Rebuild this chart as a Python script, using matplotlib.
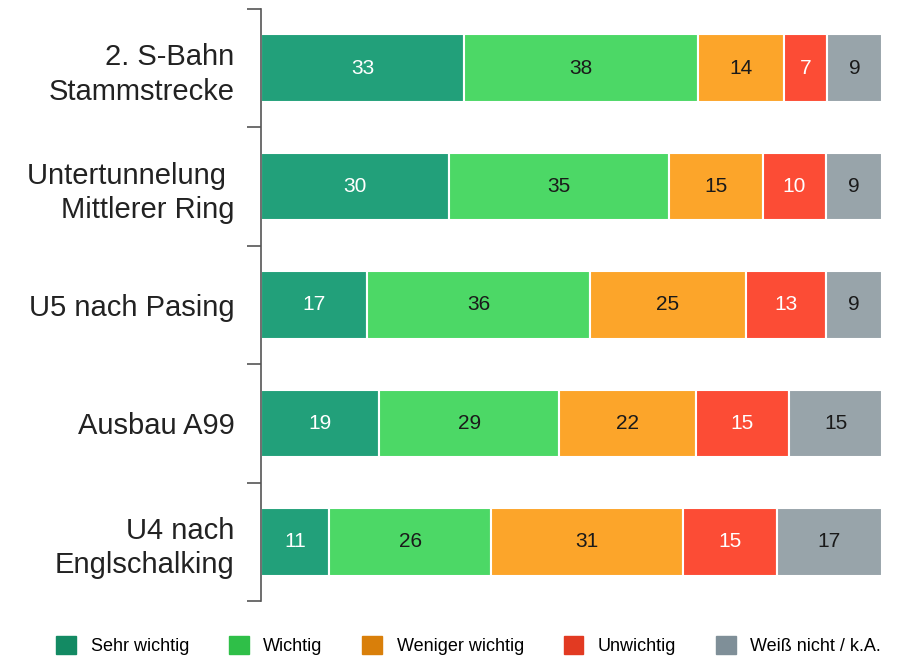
import matplotlib.pyplot as plt
from matplotlib.patches import Patch
import numpy as np

projekte = ["2. S-Bahn\nStammstrecke", "Untertunnelung \nMittlerer Ring", "U5 nach Pasing",
            "Ausbau A99", "U4 nach\nEnglschalking"]
antworten = ["Sehr wichtig", "Wichtig", "Weniger wichtig", "Unwichtig", "Weiß nicht / k.A."]
sehr_wichtig = [33, 30, 17, 19, 11]
wichtig = [38, 35, 36, 29, 26]
weniger_wichtig = [14, 15, 25, 22, 31]
unwichtig = [7, 10, 13, 15, 15]
weiss_nicht = [9, 9, 9, 15, 17]

farben = ["#22a07a", "#4cd866", "#fca52a", "#fc4c35", "#98a4aa"]
farben_legende = ["#138a63", "#2fbf48", "#d97f0a", "#e23a22", "#7f8f98"]
textfarben = ["white", "#1a1a1a", "#1a1a1a", "white", "#1a1a1a"]

plt.rcParams['font.family'] = ['Liberation Sans', 'DejaVu Sans']

reihen = np.array([sehr_wichtig, wichtig, weniger_wichtig, unwichtig, weiss_nicht], dtype=float)
summen = reihen.sum(axis=0)
anteile = reihen / summen * 100  # jede Zeile auf volle Breite

fig = plt.figure(figsize=(9.19, 6.58), dpi=100)
ax = fig.add_axes([0.284, 0.0866, 0.676, 0.8998])

y = np.arange(len(projekte))
links = np.zeros(len(projekte))
for i in range(len(antworten)):
    ax.barh(y, anteile[i], left=links, height=0.57, color=farben[i],
            edgecolor="white", linewidth=1.5)
    for j in range(len(projekte)):
        ax.text(links[j] + anteile[i][j] / 2, y[j], str(int(reihen[i][j])),
                ha="center", va="center", fontsize=15, color=textfarben[i])
    links += anteile[i]

ax.set_xlim(0, 100)
ax.set_ylim(len(projekte) - 0.5, -0.5)
ax.set_yticks(y)
ax.set_yticklabels(projekte, fontsize=21, color="#222222", linespacing=1.3)
ax.set_yticks(np.arange(-0.5, len(projekte)), minor=True)
ax.tick_params(axis="y", which="major", length=0, pad=19)
ax.tick_params(axis="y", which="minor", length=10, width=1.2, color="#555555")
ax.set_xticks([])
for s in ["top", "right", "bottom"]:
    ax.spines[s].set_visible(False)
ax.spines["left"].set_color("#555555")
ax.spines["left"].set_linewidth(1.2)

handles = [Patch(color=c) for c in farben_legende]
fig.legend(handles, antworten, loc="lower center", bbox_to_anchor=(0.51, -0.02),
           ncol=5, frameon=False, fontsize=13, handlelength=1.1, handleheight=1.2,
           columnspacing=2.2, handletextpad=0.8)

fig.savefig("out.png", dpi=100)
